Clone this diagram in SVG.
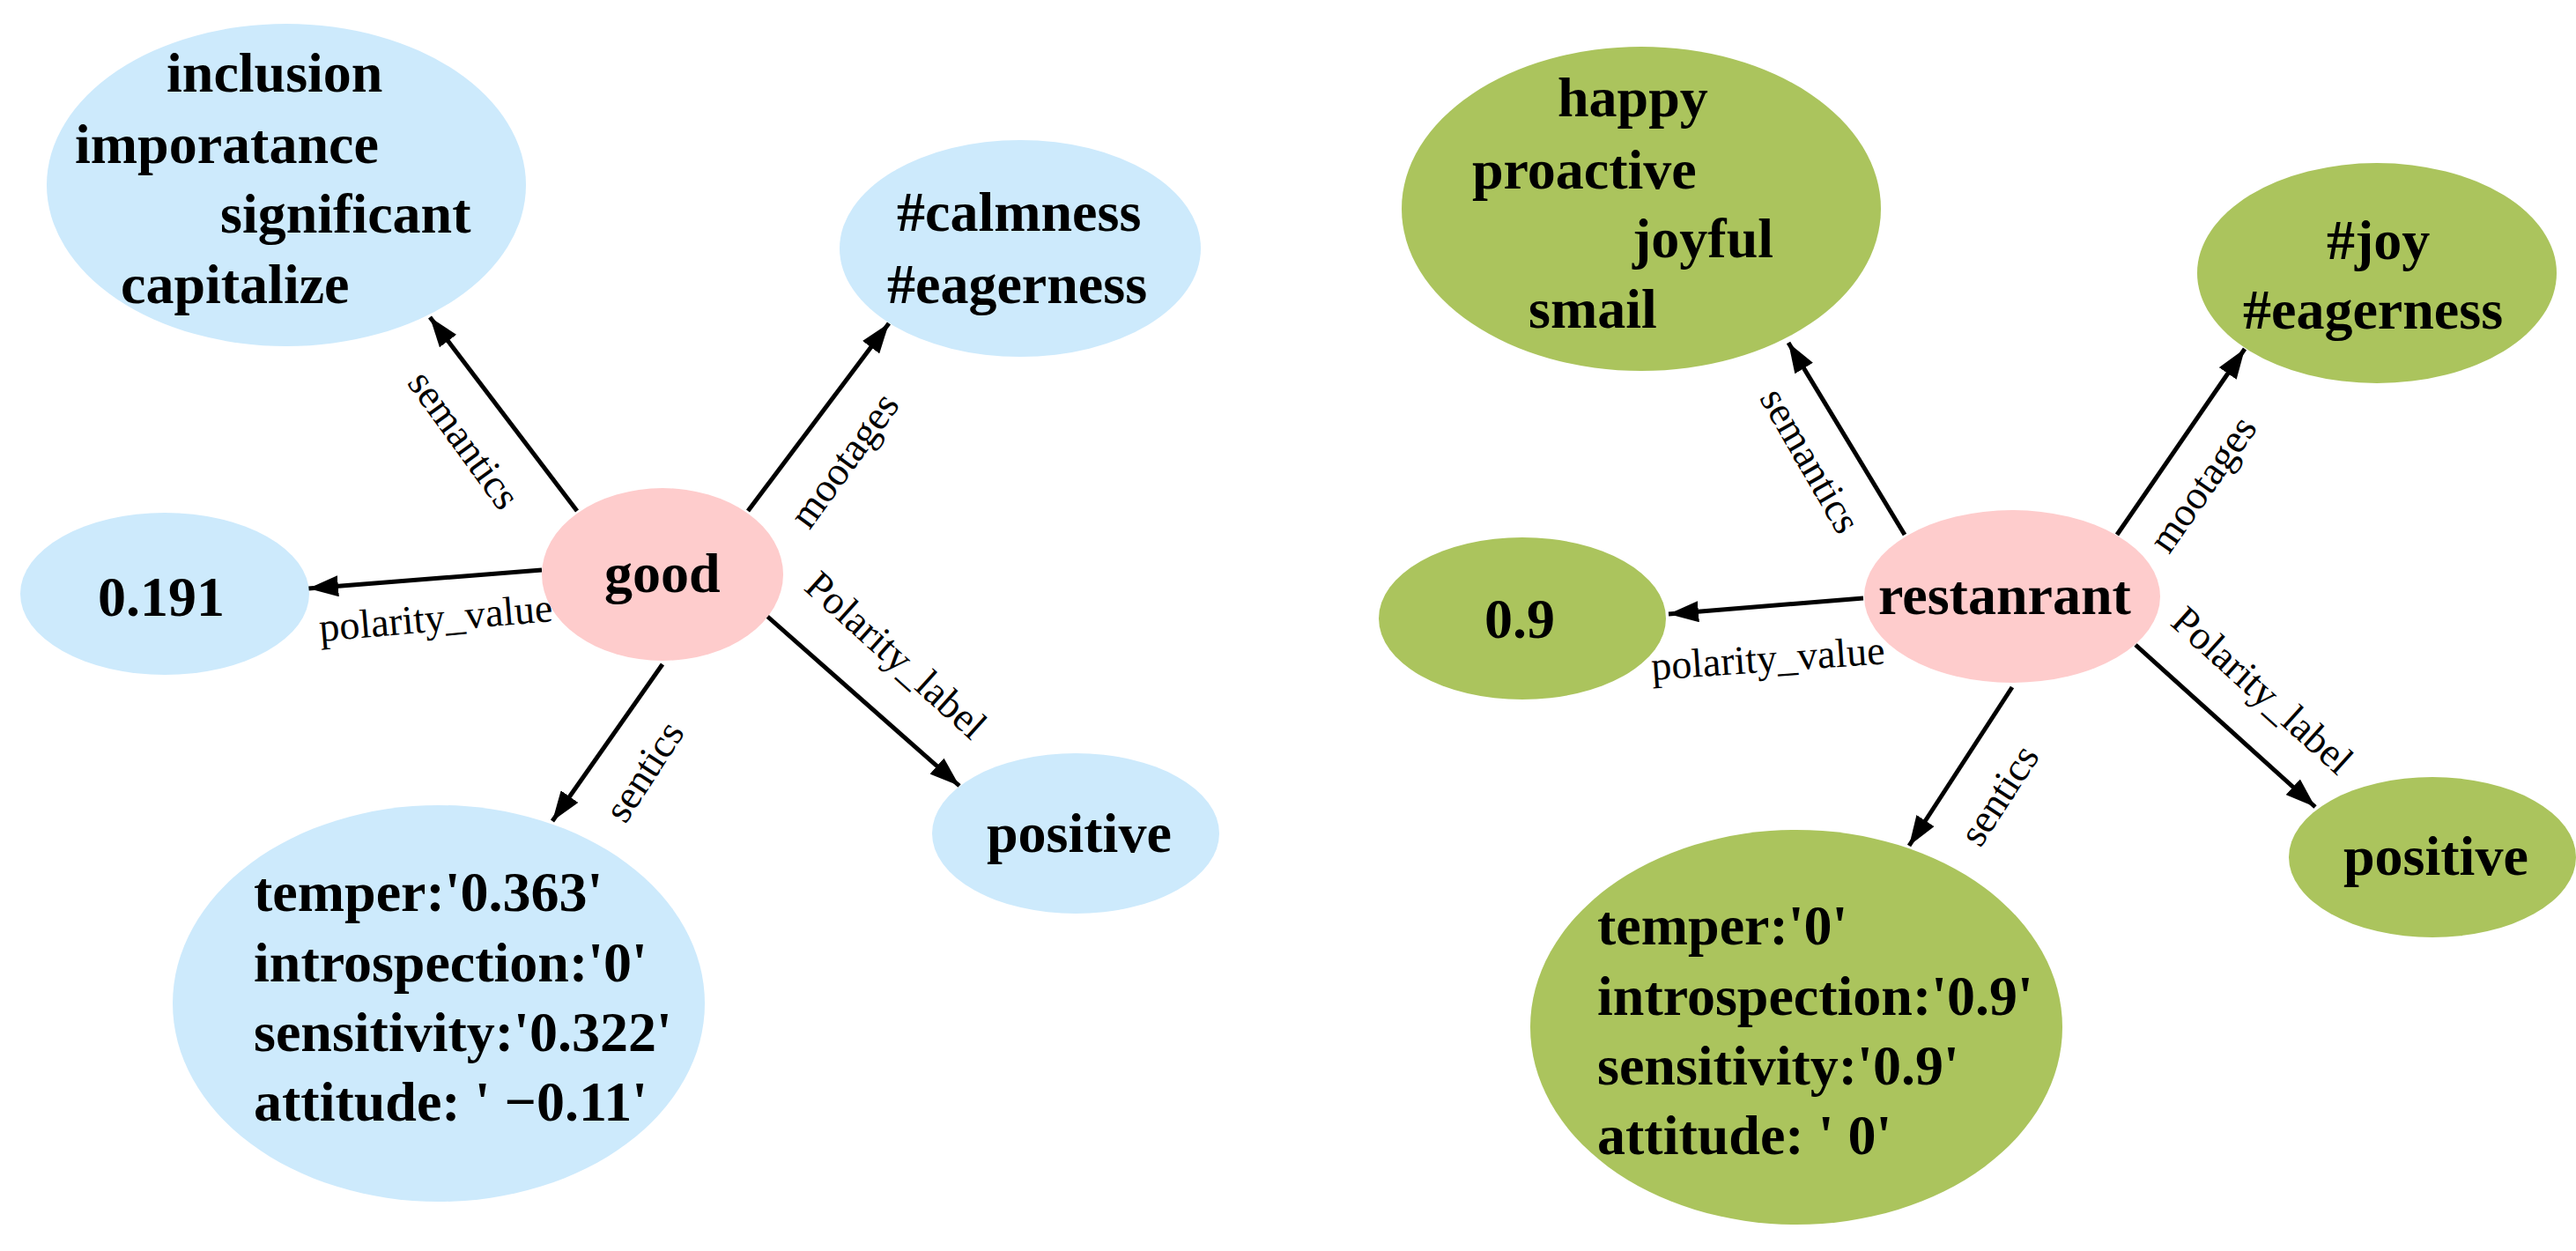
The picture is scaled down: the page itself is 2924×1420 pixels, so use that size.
<svg xmlns="http://www.w3.org/2000/svg" width="2924" height="1420" viewBox="0 0 2924 1420">
<style>
.b{fill:#cdeafc}.g{fill:#abc45d}.p{fill:#fecccc}
.n{font-family:"Liberation Serif",serif;font-weight:bold;font-size:64px;fill:#000}
.e{font-family:"Liberation Serif",serif;font-size:46px;fill:#000;text-anchor:middle;dominant-baseline:middle}
.l{stroke:#000;stroke-width:5;fill:none;marker-end:url(#a)}
</style>
<defs><marker id="a" markerUnits="userSpaceOnUse" markerWidth="34" markerHeight="24" refX="34" refY="12" orient="auto"><path d="M0,0 L34,12 L0,24 z" fill="#000"/></marker></defs>
<rect width="2924" height="1420" fill="#fff"/>
<g id="edges">
<line class="l" x1="655" y1="580" x2="488" y2="360"/>
<line class="l" x1="849" y1="580" x2="1009" y2="367"/>
<line class="l" x1="615" y1="647" x2="350" y2="668"/>
<line class="l" x1="752" y1="754" x2="627" y2="932"/>
<line class="l" x1="868" y1="697" x2="1089" y2="892"/>
<text class="e" transform="translate(523,502) rotate(54)">semantics</text>
<text class="e" transform="translate(962,525) rotate(-54)">mootages</text>
<text class="e" transform="translate(495,706) rotate(-5)">polarity_value</text>
<text class="e" transform="translate(735,878) rotate(-57)">sentics</text>
<text class="e" transform="translate(1014,747) rotate(42)">Polarity_label</text>
<line class="l" x1="2162" y1="607" x2="2030" y2="389"/>
<line class="l" x1="2403" y1="607" x2="2548" y2="396"/>
<line class="l" x1="2115" y1="679" x2="1894" y2="697"/>
<line class="l" x1="2284" y1="780" x2="2167" y2="960"/>
<line class="l" x1="2424" y1="732" x2="2628" y2="916"/>
<text class="e" transform="translate(2051,525) rotate(60)">semantics</text>
<text class="e" transform="translate(2504,552) rotate(-55)">mootages</text>
<text class="e" transform="translate(2007,752) rotate(-4)">polarity_value</text>
<text class="e" transform="translate(2273,905) rotate(-57)">sentics</text>
<text class="e" transform="translate(2565,787) rotate(42)">Polarity_label</text>
</g>
<g id="good"><ellipse class="p" cx="752" cy="652" rx="137" ry="98"/><text class="n" x="686" y="672">good</text></g>
<g id="semL"><ellipse class="b" cx="325" cy="210" rx="272" ry="183"/>
<text class="n" x="189" y="104">inclusion</text><text class="n" x="85" y="185">imporatance</text><text class="n" x="250" y="264">significant</text><text class="n" x="137" y="344">capitalize</text></g>
<g id="mooL"><ellipse class="b" cx="1158" cy="282" rx="205" ry="123"/><text class="n" x="1018" y="262">#calmness</text><text class="n" x="1007" y="344">#eagerness</text></g>
<g id="valL"><ellipse class="b" cx="187" cy="674" rx="164" ry="92"/><text class="n" x="111" y="699">0.191</text></g>
<g id="posL"><ellipse class="b" cx="1221" cy="946" rx="163" ry="91"/><text class="n" x="1120" y="967">positive</text></g>
<g id="senL"><ellipse class="b" cx="498" cy="1139" rx="302" ry="225"/>
<text class="n" x="288" y="1034">temper:'0.363'</text><text class="n" x="288" y="1114">introspection:'0'</text><text class="n" x="288" y="1193">sensitivity:'0.322'</text><text class="n" x="288" y="1272">attitude: ' −0.11'</text></g>
<g id="rest"><ellipse class="p" cx="2284" cy="677" rx="168" ry="98"/><text class="n" x="2132" y="697">restanrant</text></g>
<g id="semR"><ellipse class="g" cx="1863" cy="237" rx="272" ry="184"/>
<text class="n" x="1768" y="132">happy</text><text class="n" x="1671" y="214">proactive</text><text class="n" x="1853" y="292">joyful</text><text class="n" x="1735" y="372">smail</text></g>
<g id="mooR"><ellipse class="g" cx="2698" cy="310" rx="204" ry="125"/><text class="n" x="2641" y="294">#joy</text><text class="n" x="2546" y="373">#eagerness</text></g>
<g id="valR"><ellipse class="g" cx="1728" cy="702" rx="163" ry="92"/><text class="n" x="1685" y="724">0.9</text></g>
<g id="posR"><ellipse class="g" cx="2761" cy="973" rx="163" ry="91"/><text class="n" x="2660" y="993">positive</text></g>
<g id="senR"><ellipse class="g" cx="2039" cy="1166" rx="302" ry="224"/>
<text class="n" x="1813" y="1072">temper:'0'</text><text class="n" x="1813" y="1152">introspection:'0.9'</text><text class="n" x="1813" y="1231">sensitivity:'0.9'</text><text class="n" x="1813" y="1310">attitude: ' 0'</text></g>
</svg>
